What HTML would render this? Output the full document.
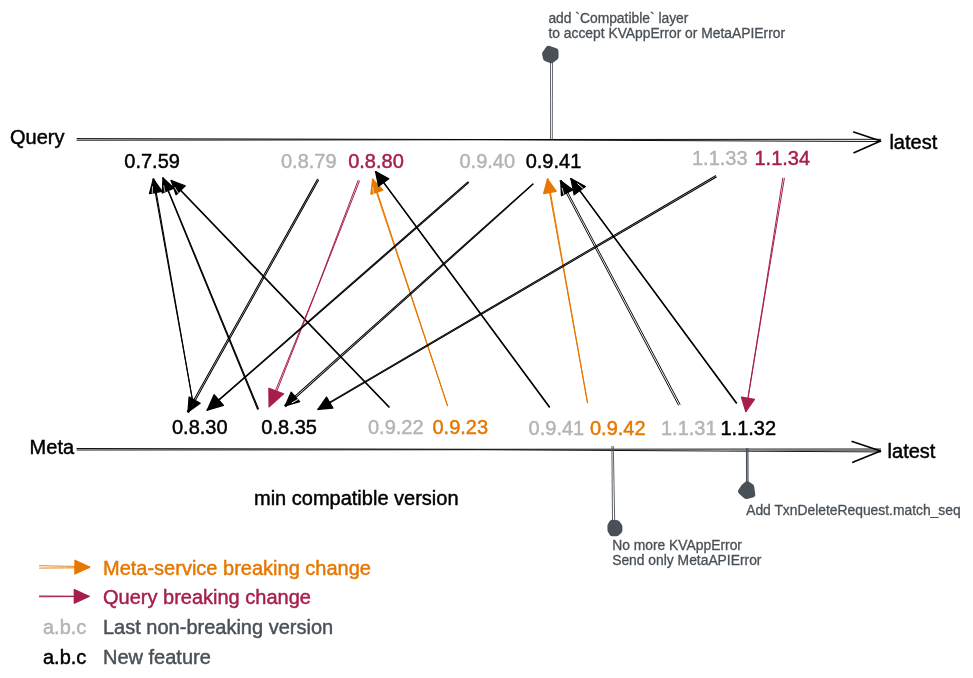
<!DOCTYPE html>
<html><head><meta charset="utf-8"><title>Query / Meta compatibility</title>
<style>
html,body{margin:0;padding:0;background:#fff;}
svg{display:block;will-change:transform;font-family:"Liberation Sans",sans-serif;}
</style></head><body>
<svg width="973" height="678" viewBox="0 0 973 678">
<rect width="973" height="678" fill="#ffffff"/>
<path d="M77.0 138.6Q478.8 140.1 880.6 139.3" fill="none" stroke="#000000" stroke-width="0.95" stroke-linecap="round"/>
<path d="M77.0 140.2Q478.8 138.7 880.6 141.5" fill="none" stroke="#000000" stroke-width="0.95" stroke-linecap="round"/>
<polyline points="853.7,132 880.6,140.9 854,152.7" fill="none" stroke="#000000" stroke-width="1.6" stroke-linecap="round" stroke-linejoin="round"/>
<path d="M77.0 448.5Q478.8 449.8 880.6 449.0" fill="none" stroke="#111" stroke-width="1.0" stroke-linecap="round"/>
<path d="M77.0 450.0Q478.8 448.5 880.6 451.9" fill="none" stroke="#111" stroke-width="1.0" stroke-linecap="round"/>
<path d="M730.0 449.7Q805.0 450.1 880.0 450.5" fill="none" stroke="#777" stroke-width="1.8" stroke-linecap="round"/>
<polyline points="852.2,441.4 880.6,451 852.8,462.3" fill="none" stroke="#000000" stroke-width="1.6" stroke-linecap="round" stroke-linejoin="round"/>
<path d="M550.5 139.0Q550.5 100.5 550.5 62.0" fill="none" stroke="#495057" stroke-width="0.85" stroke-linecap="round"/>
<path d="M552.3 139.0Q552.4 100.5 552.5 62.0" fill="none" stroke="#495057" stroke-width="0.85" stroke-linecap="round"/>
<polygon points="548.6,49.1 555.3,51.3 555.4,56.9 551.1,60.1 546.1,58.0 545.3,53.9" fill="#495057" stroke="#495057" stroke-width="6.4" stroke-linejoin="round"/>
<path d="M613.3 446.5Q614.0 483.7 614.7 521.0" fill="none" stroke="#495057" stroke-width="0.9" stroke-linecap="round"/>
<path d="M611.9 446.5Q612.2 483.8 612.5 521.0" fill="none" stroke="#495057" stroke-width="0.9" stroke-linecap="round"/>
<polygon points="612.3,522.9 617.1,523.5 619.2,526.6 619.2,530.5 616.4,533.0 612.4,533.1 610.7,530.1 610.6,526.0" fill="#495057" stroke="#495057" stroke-width="6.4" stroke-linejoin="round"/>
<path d="M747.9 448.5Q748.0 465.2 748.0 482.0" fill="none" stroke="#495057" stroke-width="1.2" stroke-linecap="round"/>
<path d="M746.5 448.5Q746.5 465.3 746.6 482.0" fill="none" stroke="#495057" stroke-width="1.2" stroke-linecap="round"/>
<polygon points="747.2,484.4 751.0,486.9 752.1,494.5 746.3,495.8 741.3,491.4 744.3,486.9" fill="#495057" stroke="#495057" stroke-width="6.4" stroke-linejoin="round"/>
<path d="M193.0 403.0Q172.9 291.0 152.9 179.1" fill="none" stroke="#000000" stroke-width="1.1" stroke-linecap="round"/>
<path d="M193.0 403.0Q173.5 291.0 153.9 178.9" fill="none" stroke="#000000" stroke-width="1.1" stroke-linecap="round"/>
<polygon points="153.4,179.0 149.5,193.5 162.0,191.3" fill="#000000" stroke="#000000" stroke-width="1.3" stroke-linejoin="round"/>
<line x1="152.5" y1="186.7" x2="152.3" y2="193.0" stroke="#fff" stroke-width="0.8" stroke-linecap="round"/>
<path d="M257.6 409.2Q210.2 293.6 162.8 178.1" fill="none" stroke="#000000" stroke-width="1.15" stroke-linecap="round"/>
<path d="M258.4 408.8Q210.8 293.4 163.2 177.9" fill="none" stroke="#000000" stroke-width="1.15" stroke-linecap="round"/>
<polygon points="163.0,178.0 162.3,193.0 174.0,188.2" fill="#000000" stroke="#000000" stroke-width="1.3" stroke-linejoin="round"/>
<line x1="163.8" y1="185.8" x2="164.9" y2="191.9" stroke="#fff" stroke-width="0.7" stroke-linecap="round"/>
<path d="M388.8 407.2Q279.9 293.9 171.0 180.7" fill="none" stroke="#000000" stroke-width="1.15" stroke-linecap="round"/>
<path d="M389.2 406.8Q280.3 293.6 171.4 180.3" fill="none" stroke="#000000" stroke-width="1.15" stroke-linecap="round"/>
<polygon points="171.2,180.5 176.1,194.7 185.2,185.9" fill="#000000" stroke="#000000" stroke-width="1.3" stroke-linejoin="round"/>
<line x1="174.8" y1="187.4" x2="178.1" y2="192.8" stroke="#fff" stroke-width="0.8" stroke-linecap="round"/>
<path d="M447.5 405.7Q409.5 292.7 372.2 179.4" fill="none" stroke="#e67700" stroke-width="1.05" stroke-linecap="round"/>
<path d="M447.5 405.7Q410.6 292.3 373.0 179.2" fill="none" stroke="#e67700" stroke-width="1.05" stroke-linecap="round"/>
<polygon points="372.6,179.3 370.9,194.2 382.9,190.2" fill="#e67700" stroke="#e67700" stroke-width="1.3" stroke-linejoin="round"/>
<line x1="372.8" y1="187.1" x2="373.5" y2="193.3" stroke="#fff" stroke-width="0.6" stroke-linecap="round"/>
<path d="M549.2 407.2Q462.3 289.4 375.4 171.7" fill="none" stroke="#000000" stroke-width="1.15" stroke-linecap="round"/>
<path d="M549.6 406.8Q462.7 289.2 375.8 171.5" fill="none" stroke="#000000" stroke-width="1.15" stroke-linecap="round"/>
<polygon points="375.6,171.6 378.6,186.3 388.8,178.8" fill="#000000" stroke="#000000" stroke-width="1.3" stroke-linejoin="round"/>
<path d="M587.5 402.7Q567.3 290.9 547.2 179.1" fill="none" stroke="#e67700" stroke-width="1.05" stroke-linecap="round"/>
<path d="M587.5 402.7Q567.8 290.8 548.0 178.9" fill="none" stroke="#e67700" stroke-width="1.05" stroke-linecap="round"/>
<polygon points="547.6,179.0 543.7,193.5 556.2,191.3" fill="#e67700" stroke="#e67700" stroke-width="1.3" stroke-linejoin="round"/>
<path d="M678.4 405.1Q619.2 293.1 560.0 181.1" fill="none" stroke="#000000" stroke-width="0.95" stroke-linecap="round"/>
<path d="M680.0 404.3Q620.7 292.3 561.4 180.3" fill="none" stroke="#000000" stroke-width="0.95" stroke-linecap="round"/>
<polygon points="560.7,180.7 561.5,195.7 572.7,189.8" fill="#000000" stroke="#000000" stroke-width="1.3" stroke-linejoin="round"/>
<line x1="562.2" y1="188.3" x2="563.9" y2="194.4" stroke="#fff" stroke-width="0.8" stroke-linecap="round"/>
<path d="M736.2 403.1Q653.4 290.9 570.7 178.7" fill="none" stroke="#000000" stroke-width="1.15" stroke-linecap="round"/>
<path d="M736.6 402.9Q653.9 290.7 571.1 178.5" fill="none" stroke="#000000" stroke-width="1.15" stroke-linecap="round"/>
<polygon points="570.9,178.6 574.2,194.8 585.4,186.5" fill="#000000" stroke="#000000" stroke-width="1.3" stroke-linejoin="round"/>
<line x1="577.7" y1="183.8" x2="582.9" y2="188.3" stroke="#fff" stroke-width="1.0" stroke-linecap="round"/>
<path d="M318.6 180.1Q253.2 296.0 188.7 412.4" fill="none" stroke="#000000" stroke-width="1.05" stroke-linecap="round"/>
<path d="M317.4 179.3Q252.8 295.7 187.3 411.6" fill="none" stroke="#000000" stroke-width="1.05" stroke-linecap="round"/>
<polygon points="188.0,412.0 200.2,403.2 189.1,397.0" fill="#000000" stroke="#000000" stroke-width="1.3" stroke-linejoin="round"/>
<path d="M359.5 181.0Q316.5 290.7 273.2 400.3" fill="none" stroke="#a61e4d" stroke-width="1.0" stroke-linecap="round"/>
<path d="M358.1 180.4Q317.4 291.0 271.8 399.7" fill="none" stroke="#a61e4d" stroke-width="1.0" stroke-linecap="round"/>
<polygon points="269.1,406.8 268.9,388.4 283.6,393.8" fill="#a61e4d" stroke="#a61e4d" stroke-width="1.3" stroke-linejoin="round"/>
<path d="M468.7 182.6Q338.0 296.5 207.4 410.4" fill="none" stroke="#000000" stroke-width="1.1" stroke-linecap="round"/>
<path d="M467.9 181.8Q337.5 295.9 207.0 410.0" fill="none" stroke="#000000" stroke-width="1.1" stroke-linecap="round"/>
<polygon points="207.2,410.2 223.5,405.5 214.1,394.7" fill="#000000" stroke="#000000" stroke-width="1.3" stroke-linejoin="round"/>
<path d="M533.2 184.2Q409.5 295.4 285.8 406.7" fill="none" stroke="#000000" stroke-width="1.05" stroke-linecap="round"/>
<path d="M532.8 183.8Q408.7 294.6 284.6 405.3" fill="none" stroke="#000000" stroke-width="1.05" stroke-linecap="round"/>
<polygon points="285.2,406.0 299.6,401.7 291.1,392.2" fill="#000000" stroke="#000000" stroke-width="1.3" stroke-linejoin="round"/>
<line x1="292.2" y1="402.7" x2="297.7" y2="399.6" stroke="#fff" stroke-width="1.0" stroke-linecap="round"/>
<path d="M716.4 177.0Q517.4 293.6 318.2 409.7" fill="none" stroke="#000000" stroke-width="1.05" stroke-linecap="round"/>
<path d="M715.6 175.8Q516.6 292.2 317.8 409.1" fill="none" stroke="#000000" stroke-width="1.05" stroke-linecap="round"/>
<polygon points="318.0,409.4 332.9,408.0 326.5,397.1" fill="#000000" stroke="#000000" stroke-width="1.3" stroke-linejoin="round"/>
<path d="M784.4 178.3Q764.7 294.9 745.9 411.6" fill="none" stroke="#a61e4d" stroke-width="1.0" stroke-linecap="round"/>
<path d="M782.8 178.1Q764.7 294.9 745.7 411.6" fill="none" stroke="#a61e4d" stroke-width="1.0" stroke-linecap="round"/>
<polygon points="745.8,411.6 754.4,399.3 741.5,397.2" fill="#a61e4d" stroke="#a61e4d" stroke-width="1.3" stroke-linejoin="round"/>
<path d="M39.5 565.7Q64.6 566.2 89.6 566.7" fill="none" stroke="#e67700" stroke-width="0.9" stroke-linecap="round"/>
<path d="M39.5 568.1Q64.5 567.9 89.6 567.7" fill="none" stroke="#e67700" stroke-width="0.9" stroke-linecap="round"/>
<polygon points="89.6,567.2 75.0,560.3 74.9,574.0" fill="#e67700" stroke="#e67700" stroke-width="1.3" stroke-linejoin="round"/>
<path d="M39.5 596.0Q64.2 596.1 89.0 596.3" fill="none" stroke="#a61e4d" stroke-width="1.0" stroke-linecap="round"/>
<path d="M39.5 596.8Q64.2 596.6 89.0 596.5" fill="none" stroke="#a61e4d" stroke-width="1.0" stroke-linecap="round"/>
<polygon points="89.0,596.4 74.3,589.6 74.3,603.2" fill="#a61e4d" stroke="#a61e4d" stroke-width="1.3" stroke-linejoin="round"/>
<text x="10" y="144.0" fill="#000000" stroke="#000000" stroke-width="0.45" font-size="20">Query</text>
<text x="889.4" y="148.5" fill="#000000" stroke="#000000" stroke-width="0.45" font-size="20">latest</text>
<text x="29.6" y="454.4" fill="#000000" stroke="#000000" stroke-width="0.45" font-size="20">Meta</text>
<text x="887.6" y="457.8" fill="#000000" stroke="#000000" stroke-width="0.45" font-size="20">latest</text>
<text x="124.3" y="168" fill="#000000" stroke="#000000" stroke-width="0.45" font-size="20">0.7.59</text>
<text x="281" y="167.9" fill="#b4b4b4" stroke="#b4b4b4" stroke-width="0.45" font-size="20">0.8.79</text>
<text x="348.2" y="167.9" fill="#a61e4d" stroke="#a61e4d" stroke-width="0.45" font-size="20">0.8.80</text>
<text x="459.5" y="167.9" fill="#b4b4b4" stroke="#b4b4b4" stroke-width="0.45" font-size="20">0.9.40</text>
<text x="525.7" y="167.9" fill="#000000" stroke="#000000" stroke-width="0.45" font-size="20">0.9.41</text>
<text x="692" y="164.5" fill="#b4b4b4" stroke="#b4b4b4" stroke-width="0.45" font-size="20">1.1.33</text>
<text x="754.5" y="164.5" fill="#a61e4d" stroke="#a61e4d" stroke-width="0.45" font-size="20">1.1.34</text>
<text x="172" y="433.6" fill="#000000" stroke="#000000" stroke-width="0.45" font-size="20">0.8.30</text>
<text x="261.3" y="433.6" fill="#000000" stroke="#000000" stroke-width="0.45" font-size="20">0.8.35</text>
<text x="368" y="434" fill="#b4b4b4" stroke="#b4b4b4" stroke-width="0.45" font-size="20">0.9.22</text>
<text x="432.5" y="434" fill="#e67700" stroke="#e67700" stroke-width="0.45" font-size="20">0.9.23</text>
<text x="528.6" y="434.5" fill="#b4b4b4" stroke="#b4b4b4" stroke-width="0.45" font-size="20">0.9.41</text>
<text x="590" y="434.5" fill="#e67700" stroke="#e67700" stroke-width="0.45" font-size="20">0.9.42</text>
<text x="661" y="434.5" fill="#b4b4b4" stroke="#b4b4b4" stroke-width="0.45" font-size="20">1.1.31</text>
<text x="720.5" y="434.5" fill="#000000" stroke="#000000" stroke-width="0.45" font-size="20">1.1.32</text>
<text x="254" y="504.9" fill="#000000" stroke="#000000" stroke-width="0.45" font-size="20">min compatible version</text>
<text x="548.4" y="23.1" fill="#495057" stroke="#495057" stroke-width="0.3" font-size="13.85">add `Compatible` layer</text>
<text x="548.4" y="38.1" fill="#495057" stroke="#495057" stroke-width="0.3" font-size="13.85">to accept KVAppError or MetaAPIError</text>
<text x="746.2" y="514.7" fill="#495057" stroke="#495057" stroke-width="0.3" font-size="13.85">Add TxnDeleteRequest.match_seq</text>
<text x="612.2" y="550.3" fill="#495057" stroke="#495057" stroke-width="0.3" font-size="13.85">No more KVAppError</text>
<text x="612.2" y="564.6" fill="#495057" stroke="#495057" stroke-width="0.3" font-size="13.85">Send only MetaAPIError</text>
<text x="103" y="574.8" fill="#e67700" stroke="#e67700" stroke-width="0.45" font-size="20">Meta-service breaking change</text>
<text x="103" y="603.7" fill="#a61e4d" stroke="#a61e4d" stroke-width="0.45" font-size="20">Query breaking change</text>
<text x="103" y="633.8" fill="#495057" stroke="#495057" stroke-width="0.45" font-size="20">Last non-breaking version</text>
<text x="103" y="663.8" fill="#495057" stroke="#495057" stroke-width="0.45" font-size="20">New feature</text>
<text x="43" y="633.8" fill="#b4b4b4" stroke="#b4b4b4" stroke-width="0.45" font-size="20">a.b.c</text>
<text x="43" y="663.8" fill="#000000" stroke="#000000" stroke-width="0.45" font-size="20">a.b.c</text>
</svg>
</body></html>
